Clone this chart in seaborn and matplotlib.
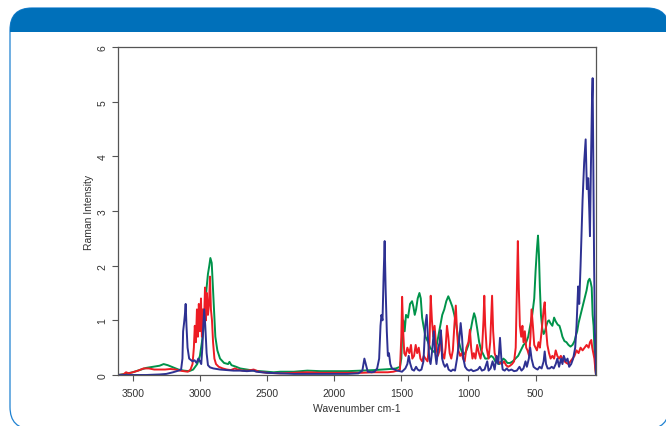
import matplotlib
matplotlib.use("Agg")
import matplotlib.pyplot as plt
from matplotlib.patches import FancyBboxPatch, Rectangle
from matplotlib.transforms import Affine2D
import pandas as pd
import seaborn as sns

# spectra: wavenumber (cm-1) and Raman intensity
green_wn = [3610, 3560, 3500, 3450, 3400, 3350, 3300, 3270, 3240, 3200, 3160, 3120, 3080, 3050,
            3020, 3000, 2985, 2970, 2960, 2950, 2940, 2930, 2922, 2912, 2905, 2895, 2885, 2870,
            2850, 2820, 2790, 2780, 2765, 2730, 2700, 2650, 2600, 2550, 2500, 2450, 2400, 2300,
            2200, 2100, 2000, 1900, 1800, 1700, 1640, 1580, 1540, 1510, 1500, 1494, 1485, 1475,
            1465, 1450, 1435, 1420, 1410, 1400, 1390, 1378, 1365, 1355, 1345, 1335, 1320, 1300,
            1285, 1270, 1255, 1240, 1225, 1210, 1195, 1180, 1165, 1150, 1135, 1120, 1105, 1090,
            1075, 1060, 1045, 1030, 1015, 1000, 985, 970, 958, 948, 935, 920, 905, 890, 875, 860,
            845, 830, 815, 800, 785, 770, 755, 740, 725, 710, 690, 670, 650, 630, 610, 590, 570,
            555, 540, 525, 510, 500, 490, 482, 475, 468, 460, 450, 440, 430, 420, 410, 400, 390,
            375, 362, 350, 335, 322, 310, 300, 285, 270, 255, 240, 225, 210, 200, 190, 180, 165,
            150, 135, 120, 108, 98, 90, 82, 75, 68, 62, 55, 50]
green_int = [0.0, 0.02, 0.05, 0.09, 0.13, 0.15, 0.17, 0.2, 0.18, 0.14, 0.1, 0.08, 0.07, 0.1,
             0.2, 0.35, 0.6, 0.9, 1.3, 1.6, 1.85, 2.0, 2.14, 2.05, 1.7, 1.2, 0.7, 0.45,
             0.3, 0.22, 0.2, 0.24, 0.18, 0.15, 0.12, 0.1, 0.08, 0.07, 0.06, 0.05, 0.06, 0.06,
             0.08, 0.07, 0.07, 0.07, 0.08, 0.09, 0.1, 0.11, 0.12, 0.15, 0.3, 0.7, 1.0, 0.8,
             1.1, 1.05, 1.3, 1.35, 1.25, 1.1, 1.2, 1.4, 1.5, 1.4, 1.05, 0.9, 0.7, 0.6,
             0.5, 0.45, 0.42, 0.5, 0.7, 0.9, 1.1, 1.2, 1.35, 1.44, 1.35, 1.25, 1.1, 0.9,
             0.65, 0.5, 0.4, 0.38, 0.45, 0.55, 0.8, 1.0, 1.13, 1.05, 0.85, 0.6, 0.45, 0.38, 0.3, 0.3,
             0.32, 0.35, 0.32, 0.25, 0.22, 0.2, 0.25, 0.3, 0.27, 0.22, 0.22, 0.25, 0.3, 0.35, 0.45, 0.55, 0.6,
             0.7, 0.9, 1.1, 1.4, 1.9, 2.3, 2.55, 2.2, 1.6, 1.1, 0.85, 0.75, 0.8, 0.9, 0.98, 1.0, 0.95,
             0.9, 1.05, 0.98, 0.92, 0.9, 0.8, 0.7, 0.62, 0.6, 0.55, 0.52, 0.55, 0.62, 0.72, 0.8, 0.95, 1.1,
             1.25, 1.4, 1.55, 1.72, 1.76, 1.7, 1.6, 1.1, 0.9, 0.5, 0.15, 0.0]

red_wn = [3610, 3570, 3550, 3530, 3500, 3460, 3420, 3380, 3340, 3300, 3260, 3220, 3180, 3150,
          3120, 3090, 3070, 3055, 3045, 3038, 3030, 3022, 3015, 3008, 3000, 2992, 2985, 2978,
          2970, 2962, 2955, 2948, 2940, 2932, 2925, 2918, 2910, 2902, 2892, 2880, 2860, 2830,
          2800, 2770, 2740, 2720, 2680, 2640, 2600, 2560, 2500, 2400, 2300, 2200, 2100, 2000,
          1900, 1800, 1700, 1600, 1560, 1530, 1510, 1500, 1494, 1486, 1478, 1468, 1455, 1440,
          1428, 1418, 1405, 1393, 1382, 1370, 1358, 1345, 1333, 1320, 1305, 1290, 1281, 1272,
          1262, 1252, 1240, 1228, 1215, 1205, 1193, 1180, 1170, 1160, 1150, 1140, 1128, 1116,
          1105, 1094, 1085, 1075, 1062, 1050, 1040, 1028, 1015, 1000, 989, 980, 970, 960, 948,
          935, 922, 910, 898, 888, 882, 875, 865, 850, 838, 830, 824, 816, 805, 792, 780, 765,
          750, 735, 720, 705, 690, 675, 660, 648, 640, 632, 625, 617, 607, 598, 590, 580, 570,
          560, 548, 538, 530, 520, 510, 500, 490, 478, 468, 455, 440, 432, 424, 412, 400, 388,
          375, 362, 350, 338, 325, 312, 300, 285, 270, 255, 240, 225, 210, 195, 180, 165, 150,
          135, 120, 105, 95, 85, 78, 70, 62, 55, 50]
red_int = [0.0, 0.01, 0.05, 0.03, 0.05, 0.08, 0.12, 0.12, 0.1, 0.1, 0.1, 0.11, 0.1, 0.08,
           0.07, 0.06, 0.1, 0.2, 0.5, 0.9, 0.6, 1.2, 0.7, 1.3, 0.8, 1.4, 0.7, 1.2,
           0.9, 1.6, 1.0, 1.5, 1.1, 1.3, 1.8, 1.2, 1.0, 0.6, 0.3, 0.2, 0.15, 0.12,
           0.1, 0.09, 0.12, 0.1, 0.08, 0.08, 0.1, 0.06, 0.04, 0.03, 0.04, 0.05, 0.04, 0.04,
           0.04, 0.04, 0.05, 0.05, 0.06, 0.08, 0.1, 0.7, 1.43, 0.8, 0.4, 0.35, 0.5, 0.4,
           0.55, 0.3, 0.35, 0.55, 0.4, 0.5, 0.3, 0.25, 0.35, 0.3, 0.25, 0.6, 1.45, 1.0,
           0.7, 0.9, 0.5, 0.35, 0.45, 0.8, 0.4, 0.3, 0.5, 0.9, 0.7, 0.4, 0.3, 0.45,
           0.9, 1.27, 0.8, 0.45, 0.35, 0.4, 0.3, 0.25, 0.5, 0.6, 0.83, 0.5, 0.3, 0.4, 0.3,
           0.55, 0.4, 0.3, 0.5, 1.0, 1.45, 0.9, 0.5, 0.3, 0.6, 1.1, 1.45, 0.8, 0.4, 0.3, 0.25, 0.22,
           0.2, 0.25, 0.18, 0.15, 0.17, 0.2, 0.25, 0.5, 1.5, 2.45, 1.6, 0.9, 0.7, 0.9, 0.6, 0.8, 0.5,
           0.45, 0.35, 0.7, 1.2, 0.9, 0.55, 0.5, 0.45, 0.6, 0.5, 0.8, 1.2, 1.33, 0.9, 0.55, 0.4, 0.3,
           0.35, 0.3, 0.45, 0.35, 0.3, 0.35, 0.3, 0.25, 0.22, 0.2, 0.25, 0.3, 0.35, 0.45, 0.4, 0.5, 0.45,
           0.5, 0.55, 0.5, 0.6, 0.64, 0.5, 0.4, 0.3, 0.1, 0.0]

blue_wn = [3610, 3400, 3300, 3250, 3200, 3160, 3140, 3130, 3125, 3118, 3112, 3106, 3100, 3092,
           3080, 3070, 3055, 3040, 3025, 3012, 3000, 2990, 2982, 2975, 2968, 2960, 2950, 2940,
           2925, 2900, 2850, 2800, 2750, 2700, 2650, 2600, 2580, 2500, 2400, 2300, 2200, 2100,
           2000, 1900, 1820, 1790, 1775, 1765, 1750, 1720, 1700, 1680, 1665, 1655, 1648, 1640,
           1632, 1624, 1617, 1608, 1600, 1592, 1582, 1570, 1550, 1530, 1510, 1495, 1470, 1455,
           1445, 1435, 1420, 1405, 1390, 1378, 1365, 1350, 1335, 1322, 1311, 1302, 1292, 1282,
           1270, 1258, 1248, 1238, 1225, 1214, 1206, 1196, 1185, 1175, 1160, 1148, 1130, 1115,
           1100, 1085, 1070, 1058, 1048, 1038, 1025, 1010, 995, 980, 965, 950, 930, 915, 900,
           880, 860, 850, 835, 820, 805, 790, 778, 765, 755, 745, 730, 715, 700, 680, 660, 640,
           620, 605, 590, 575, 565, 550, 540, 530, 515, 500, 485, 470, 455, 440, 432, 422, 410,
           395, 380, 365, 350, 338, 325, 310, 300, 290, 275, 262, 250, 235, 220, 205, 195, 183,
           175, 165, 150, 138, 127, 118, 108, 100, 95, 88, 80, 75, 70, 64, 58, 52, 50]
blue_int = [0.0, 0.0, 0.01, 0.02, 0.05, 0.08, 0.1, 0.3, 0.8, 0.95, 1.1, 1.3, 0.9, 0.5,
            0.3, 0.28, 0.25, 0.27, 0.22, 0.3, 0.25, 0.2, 0.5, 0.9, 1.2, 0.9, 0.4, 0.18,
            0.14, 0.12, 0.1, 0.09, 0.08, 0.08, 0.07, 0.08, 0.06, 0.04, 0.03, 0.02, 0.02, 0.02,
            0.02, 0.02, 0.03, 0.08, 0.3, 0.2, 0.06, 0.05, 0.06, 0.12, 0.3, 0.9, 1.1, 1.0,
            1.8, 2.45, 1.6, 0.8, 0.35, 0.4, 0.2, 0.12, 0.1, 0.08, 0.07, 0.06, 0.12, 0.2,
            0.35, 0.22, 0.1, 0.08, 0.15, 0.1, 0.08, 0.1, 0.25, 0.9, 1.1, 0.7, 0.3, 0.2,
            0.45, 0.8, 0.4, 0.2, 0.5, 0.6, 0.82, 0.3, 0.2, 0.15, 0.2, 0.1, 0.07, 0.1,
            0.08, 0.3, 0.6, 0.95, 0.7, 0.3, 0.15, 0.1, 0.08, 0.1, 0.07, 0.08, 0.1, 0.15, 0.08,
            0.1, 0.25, 0.08, 0.12, 0.25, 0.1, 0.35, 0.2, 0.68, 0.3, 0.1, 0.08, 0.12, 0.08, 0.1, 0.07, 0.08,
            0.15, 0.08, 0.12, 0.25, 0.15, 0.3, 0.5, 0.3, 0.15, 0.12, 0.1, 0.15, 0.12, 0.25, 0.43, 0.2, 0.12,
            0.12, 0.15, 0.12, 0.2, 0.3, 0.15, 0.3, 0.2, 0.35, 0.25, 0.3, 0.15, 0.2, 0.3, 0.5, 0.9, 1.62,
            1.3, 2.0, 3.2, 3.9, 4.31, 3.4, 3.6, 3.0, 2.54, 3.8, 5.0, 5.43, 4.0, 2.0, 0.8, 0.2, 0.0]

x_ticks = [3500, 3000, 2500, 2000, 1500, 1000, 500]
y_ticks = [0, 1, 2, 3, 4, 5, 6]

df = pd.concat([
    pd.DataFrame({"wn": green_wn, "val": green_int, "sample": "green"}),
    pd.DataFrame({"wn": red_wn, "val": red_int, "sample": "red"}),
    pd.DataFrame({"wn": blue_wn, "val": blue_int, "sample": "blue"}),
])

sns.set_style("white")
plt.rcParams["font.family"] = ["Liberation Sans", "DejaVu Sans"]

W, H = 666, 427
fig = plt.figure(figsize=(W / 100, H / 100), dpi=100)
px = Affine2D().scale(1 / W, -1 / H).translate(0, 1) + fig.transFigure

# rounded panel with blue header
frame = FancyBboxPatch((10, 9), 659, 421, boxstyle="round,pad=0,rounding_size=22",
                       transform=px, facecolor="white", edgecolor="#1f82d2", linewidth=0.9,
                       zorder=0)
fig.add_artist(frame)
header = Rectangle((8, 7), 670, 26, transform=px, facecolor="#0070ba", edgecolor="none", zorder=1)
header.set_clip_path(frame)
fig.add_artist(header)

ax = fig.add_axes([118 / W, 1 - 376 / H, (596 - 118) / W, (376 - 48) / H])
ax.set_facecolor("none")

sns.lineplot(data=df, x="wn", y="val", hue="sample", estimator=None, sort=True,
             palette={"green": "#00934a", "red": "#ed1c24", "blue": "#2e3192"},
             linewidth=1.4, legend=False, ax=ax)

ax.set_xlim(3610, 50)
ax.set_ylim(0, 6)
ax.set_xticks(x_ticks)
ax.set_yticks(y_ticks)
ax.set_yticklabels([str(v) for v in y_ticks], rotation=90, va="center")
ax.tick_params(axis="both", length=4.5, width=0.8, color="#555555", labelsize=7.5,
               labelcolor="#333333", bottom=True, left=True)
ax.tick_params(axis="y", pad=3)
ax.tick_params(axis="x", pad=5)
for s in ax.spines.values():
    s.set_color("#555555")
    s.set_linewidth(0.9)

ax.set_xlabel("Wavenumber cm-1", fontsize=7.5, color="#333333")
ax.set_ylabel("Raman Intensity", fontsize=7.5, color="#333333")
ax.xaxis.set_label_coords(0.5, -0.085)
ax.yaxis.set_label_coords(-0.05, 0.5)

fig.savefig("out.png", dpi=100)
